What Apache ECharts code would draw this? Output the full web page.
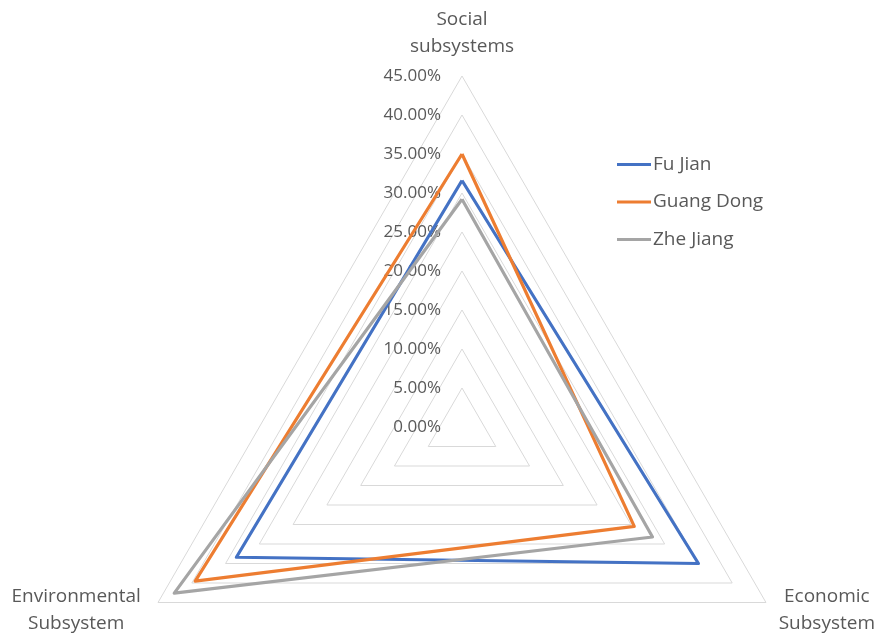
<!DOCTYPE html>
<html>
<head>
<meta charset="utf-8">
<script src="https://cdn.jsdelivr.net/npm/echarts@6/dist/echarts.min.js"></script>
<style>
html,body{margin:0;padding:0;background:#fff;}
#chart{width:878px;height:634px;}
</style>
</head>
<body>
<div id="chart"></div>
<script>
// Data
const indicators = ['Social\nsubsystems', 'Environmental\nSubsystem', 'Economic\nSubsystem'];
const seriesNames = ['Fu Jian', 'Guang Dong', 'Zhe Jiang'];
const fuJian = [0.316, 0.334, 0.350];
const guangDong = [0.350, 0.395, 0.255];
const zheJiang = [0.292, 0.426, 0.282];
const tickValues = [0, 0.05, 0.10, 0.15, 0.20, 0.25, 0.30, 0.35, 0.40, 0.45];

const colors = ['#4472C4', '#ED7D31', '#A5A5A5'];
const FONT = '"Open Sans", sans-serif';
const CX = 462, CY = 427, R = 351;
const axisMax = tickValues[tickValues.length - 1];

const richKeys = ['soc', 'env', 'eco'];

const chart = echarts.init(document.getElementById('chart'), null, {renderer: 'canvas'});
chart.setOption({
  animation: false,
  color: colors,
  textStyle: {fontFamily: FONT},
  legend: {
    orient: 'vertical',
    left: 612,
    top: 150,
    itemWidth: 34,
    itemHeight: 3,
    itemGap: 18.5,
    icon: 'rect',
    data: seriesNames,
    textStyle: {fontFamily: FONT, fontSize: 19, color: '#595959', padding: [0, 0, 0, -3]}
  },
  grid: {left: CX - 16, top: CY - R, height: R, width: 1, containLabel: false},
  xAxis: {type: 'value', show: false, min: 0, max: 1},
  yAxis: {
    type: 'value',
    min: 0, max: axisMax, interval: 0.05,
    axisLine: {show: false}, axisTick: {show: false}, splitLine: {show: false},
    axisLabel: {
      margin: 5,
      fontFamily: FONT, fontSize: 17, color: '#595959',
      formatter: function (v) {
        const t = tickValues.find(x => Math.abs(x - v) < 1e-9);
        return ((t !== undefined ? t : v) * 100).toFixed(2) + '%';
      }
    }
  },
  radar: {
    center: [CX, CY],
    radius: R,
    shape: 'polygon',
    splitNumber: 9,
    startAngle: 90,
    nameGap: 16,
    indicator: indicators.map(n => ({name: n, min: 0, max: axisMax})),
    axisName: {
      color: '#595959',
      fontFamily: FONT,
      fontSize: 19,
      formatter: function (name) {
        const idx = indicators.indexOf(name);
        const k = richKeys[idx >= 0 ? idx : 0];
        return name.split('\n').map(s => '{' + k + '|' + s + '}').join('\n');
      },
      rich: {
        soc: {width: 110, align: 'center', fontSize: 19, lineHeight: 27, color: '#595959', fontFamily: FONT},
        env: {width: 136, align: 'center', fontSize: 19, lineHeight: 27, color: '#595959', fontFamily: FONT},
        eco: {width: 94, align: 'center', fontSize: 19, lineHeight: 27, color: '#595959', fontFamily: FONT}
      }
    },
    axisLine: {show: false},
    axisTick: {show: false},
    axisLabel: {show: false},
    splitArea: {show: false},
    splitLine: {lineStyle: {color: '#D9D9D9', width: 1}}
  },
  series: [{
    type: 'radar',
    symbol: 'none',
    lineStyle: {width: 3.2},
    data: [
      {name: seriesNames[0], value: fuJian, lineStyle: {color: colors[0], width: 3.2}, itemStyle: {color: colors[0]}},
      {name: seriesNames[1], value: guangDong, lineStyle: {color: colors[1], width: 3.2}, itemStyle: {color: colors[1]}},
      {name: seriesNames[2], value: zheJiang, lineStyle: {color: colors[2], width: 3.2}, itemStyle: {color: colors[2]}}
    ]
  }]
});
</script>
</body>
</html>
